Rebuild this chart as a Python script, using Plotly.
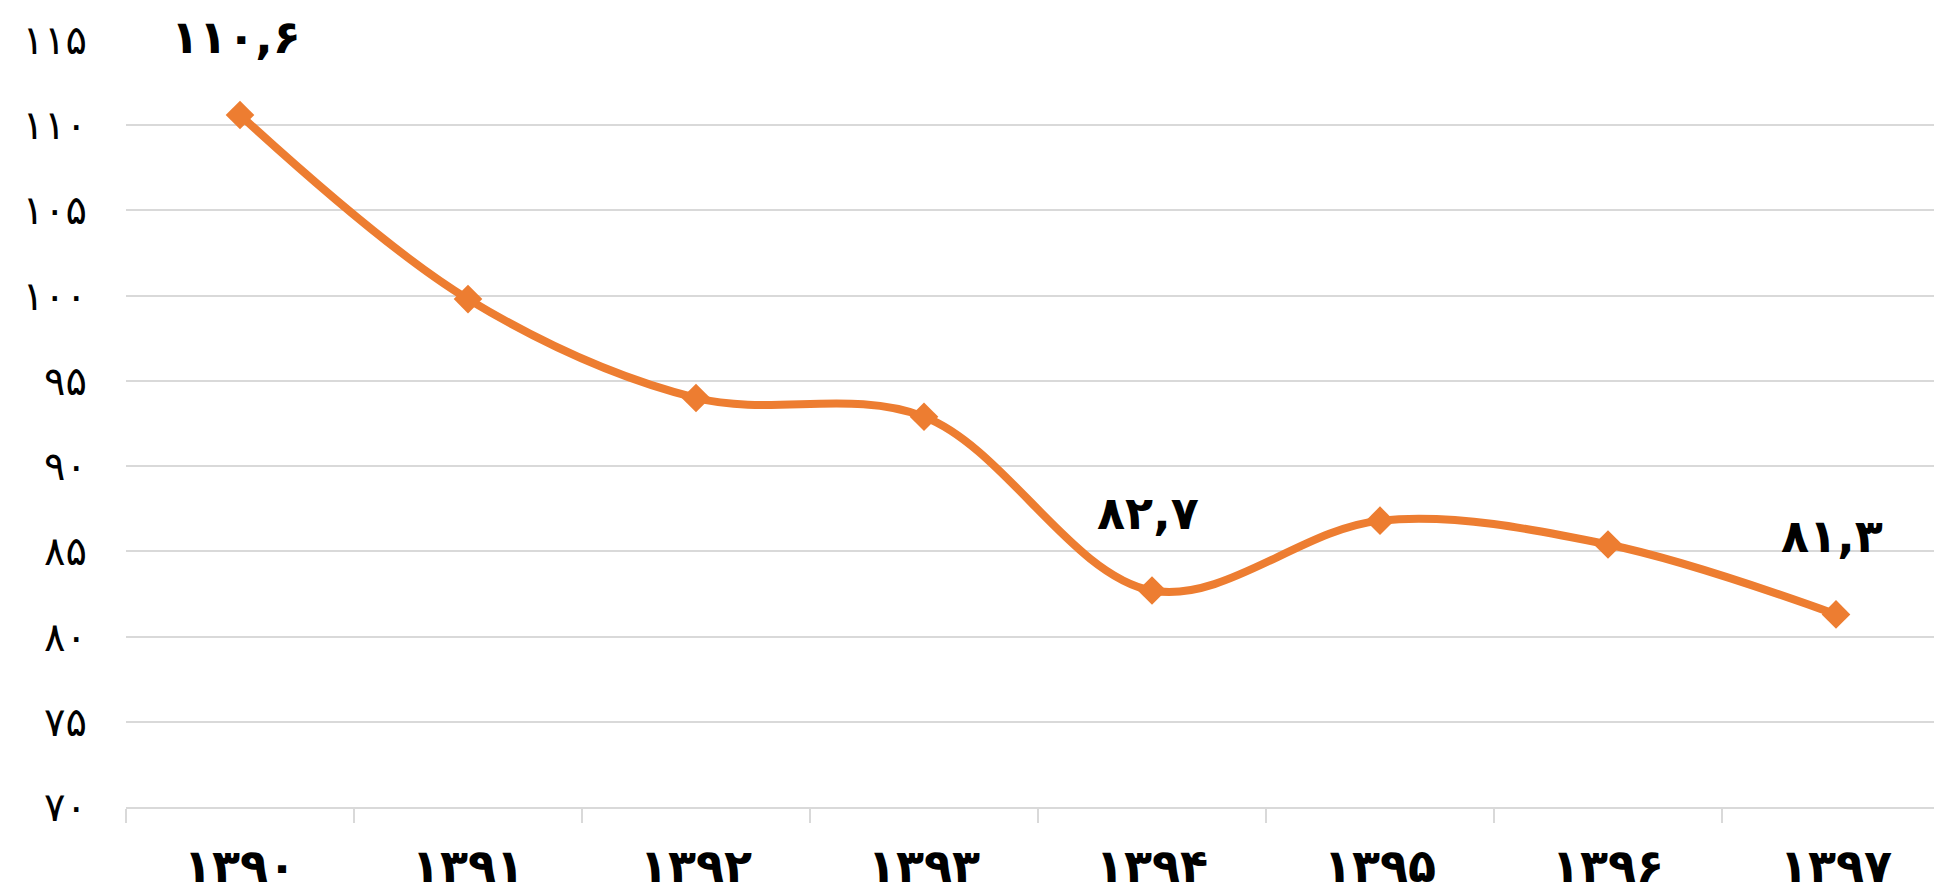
import plotly.graph_objects as go

years = ["۱۳۹۰", "۱۳۹۱", "۱۳۹۲", "۱۳۹۳", "۱۳۹۴", "۱۳۹۵", "۱۳۹۶", "۱۳۹۷"]
values = [110.6, 99.8, 94.0, 92.9, 82.7, 86.8, 85.4, 81.3]
label_idx = [0, 4, 7]
label_text = ["۱۱۰,۶", "۸۲,۷", "۸۱,۳"]
y_ticks = [70, 75, 80, 85, 90, 95, 100, 105, 110, 115]
y_ticktext = ["۷۰", "۷۵", "۸۰", "۸۵", "۹۰", "۹۵", "۱۰۰", "۱۰۵", "۱۱۰", "۱۱۵"]

FONT = "DejaVu Sans"
ORANGE = "#ED7D31"
GRID = "#D9D9D9"

fig = go.Figure()
fig.add_trace(go.Scatter(
    x=years, y=values, mode="lines+markers",
    line=dict(color=ORANGE, width=8, shape="spline", smoothing=1.0),
    marker=dict(symbol="diamond", size=22, color=ORANGE),
    hoverinfo="skip", showlegend=False,
))

annotations = []
for i, t in zip(label_idx, label_text):
    annotations.append(dict(
        x=years[i], y=values[i], xref="x", yref="y", text=t,
        showarrow=False, yshift=78, xshift=-4,
        font=dict(family=FONT, size=46, color="#000000", weight="bold"),
    ))

fig.update_layout(
    width=1942, height=891,
    margin=dict(l=118, r=0, t=32, b=92),
    paper_bgcolor="white", plot_bgcolor="white",
    annotations=annotations,
    xaxis=dict(
        type="category", range=[-0.5, 7.5],
        showgrid=False, showline=True, linecolor=GRID, linewidth=2,
        ticks="outside", tickson="boundaries", ticklen=14, tickcolor=GRID, tickwidth=2,
        tickfont=dict(family=FONT, size=46, color="#000000", weight="bold"),
        ticklabelstandoff=18,
    ),
    yaxis=dict(
        range=[70, 115], tickvals=y_ticks, ticktext=y_ticktext,
        showgrid=True, gridcolor=GRID, gridwidth=1.5,
        zeroline=False, showline=False, ticks="",
        tickfont=dict(family=FONT, size=40, color="#000000"),
        ticklabelstandoff=38,
    ),
)

fig.write_html("out.html")
